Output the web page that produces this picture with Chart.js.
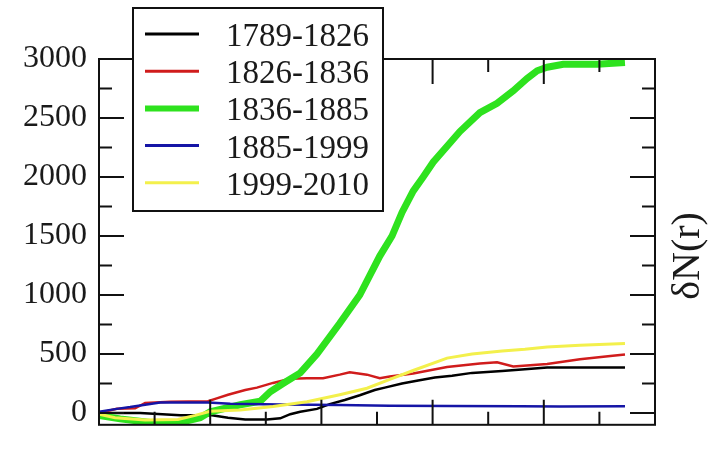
<!DOCTYPE html>
<html>
<head>
<meta charset="utf-8">
<script src="https://cdn.jsdelivr.net/npm/chart.js@4.4.0/dist/chart.umd.min.js"></script>
<style>
html, body { margin: 0; padding: 0; background: #fff; }
</style>
</head>
<body>
<canvas id="chart" width="713" height="456"></canvas>
<script>
// values, x in arbitrary units 0..100 across the frame
const periods = ['1789-1826', '1826-1836', '1836-1885', '1885-1999', '1999-2010'];

const blackX = [0, 7.4, 14.6, 20.3, 23.2, 26.3, 30.2, 32.6, 34.4, 36.2, 39.2, 41.5, 44.2, 46.9, 49.6, 51.4, 54.5, 57.4, 60.4, 63.5, 67.1, 72.5, 76.6, 80.6, 94.6];
const blackY = [0, 0, -20, -20, -40, -55, -55, -45, -10, 10, 35, 75, 110, 150, 195, 215, 250, 275, 300, 315, 340, 355, 370, 385, 385];

const redX = [0, 3.2, 6.5, 8.3, 12.8, 19.6, 20.9, 23.2, 26.3, 28.4, 31.3, 34.4, 37.4, 40.3, 43.3, 45.1, 48.2, 50.5, 52.3, 56.5, 62.6, 68.5, 71.6, 74.5, 80.6, 86.5, 92.4, 94.6];
const redY = [0, 35, 40, 85, 95, 100, 120, 155, 195, 215, 255, 290, 295, 295, 325, 345, 325, 295, 310, 335, 390, 420, 430, 395, 415, 455, 485, 495];

const greenX = [0, 3.8, 9.2, 14.6, 18.2, 20.0, 25.4, 29.0, 30.8, 33.1, 36.2, 39.2, 43.3, 46.9, 50.5, 52.7, 54.5, 56.5, 58.3, 60.1, 62.6, 64.9, 68.5, 71.6, 74.5, 77.0, 78.8, 80.6, 83.5, 89.6, 94.6];
const greenY = [-20, -50, -80, -80, -40, 10, 70, 100, 180, 250, 340, 500, 760, 1000, 1330, 1500, 1700, 1880, 2000, 2125, 2260, 2385, 2545, 2625, 2730, 2835, 2900, 2930, 2955, 2955, 2970];

const blueX = [0, 3.2, 5.6, 8.3, 11, 19.6, 23.6, 32.6, 43.3, 52.3, 63.1, 75.7, 82.9, 94.6];
const blueY = [10, 35, 50, 70, 88, 90, 78, 72, 68, 62, 60, 58, 55, 57];

const yellowX = [0, 2.9, 8.3, 14.2, 17.3, 20, 25.4, 31.3, 37.4, 43.3, 48.2, 52.3, 56.5, 62.6, 67.1, 72.5, 76.6, 80.6, 86.5, 94.6];
const yellowY = [-10, -40, -60, -55, -20, 15, 25, 55, 95, 155, 210, 285, 360, 465, 500, 525, 540, 560, 575, 590];

const yTicks = [0, 500, 1000, 1500, 2000, 2500, 3000];
const yMinor = [250, 750, 1250, 1750, 2250, 2750];
const xTicks = [20, 40, 60, 80];
const xMinor = [10, 30, 50, 70, 90];

const colors = ['#000000', '#d01c1c', '#2ee21e', '#1515a6', '#f3f04c'];
const widths = [2.5, 2.5, 7, 2.5, 3];

function pts(xs, ys) {
    return xs.map((x, i) => ({x: x, y: ys[i]}));
}
const series = [pts(blackX, blackY), pts(redX, redY), pts(greenX, greenY), pts(blueX, blueY), pts(yellowX, yellowY)];

const serif = "'Liberation Serif', 'DejaVu Serif', serif";

// box, inward ticks, legend and the right-hand title
const decor = {
    id: 'decor',
    afterDatasetsDraw(chart) {
        const ctx = chart.ctx, a = chart.chartArea;
        const x = chart.scales.x, y = chart.scales.y;
        ctx.save();
        ctx.strokeStyle = '#111';
        ctx.lineWidth = 2;
        ctx.strokeRect(a.left, a.top, a.right - a.left, a.bottom - a.top);
        ctx.beginPath();
        const tick = (v, len, isY) => {
            if (isY) {
                const p = y.getPixelForValue(v);
                ctx.moveTo(a.left, p); ctx.lineTo(a.left + len, p);
                ctx.moveTo(a.right, p); ctx.lineTo(a.right - len, p);
            } else {
                const p = x.getPixelForValue(v);
                ctx.moveTo(p, a.bottom); ctx.lineTo(p, a.bottom - len);
                ctx.moveTo(p, a.top); ctx.lineTo(p, a.top + len);
            }
        };
        yTicks.forEach(v => tick(v, 25, true));
        yMinor.forEach(v => tick(v, 13, true));
        xTicks.forEach(v => tick(v, 25, false));
        xMinor.forEach(v => tick(v, 13, false));
        ctx.stroke();
        ctx.restore();
    },
    afterDraw(chart) {
        const ctx = chart.ctx;
        ctx.save();
        // legend box
        ctx.fillStyle = '#fff';
        ctx.fillRect(133, 8, 250, 203);
        ctx.strokeStyle = '#111';
        ctx.lineWidth = 2;
        ctx.strokeRect(133, 8, 250, 203);
        ctx.font = '33px ' + serif;
        ctx.textBaseline = 'alphabetic';
        ctx.textAlign = 'left';
        chart.data.datasets.forEach((ds, i) => {
            const ly = 34 + i * 37.2;
            ctx.strokeStyle = ds.borderColor;
            ctx.lineWidth = i === 2 ? 6 : 3;
            ctx.beginPath();
            ctx.moveTo(145, ly);
            ctx.lineTo(199, ly);
            ctx.stroke();
            ctx.fillStyle = '#1a1a1a';
            ctx.fillText(ds.label, 226, ly + 12);
        });
        // y title on the right
        ctx.translate(688, 256);
        ctx.rotate(-Math.PI / 2);
        ctx.font = '40px ' + serif;
        ctx.textAlign = 'center';
        ctx.textBaseline = 'middle';
        ctx.fillStyle = '#1a1a1a';
        ctx.fillText('\u03b4N(r)', 0, 0);
        ctx.restore();
    }
};

const ctx = document.getElementById('chart').getContext('2d');
const chart = new Chart(ctx, {
    type: 'line',
    data: {
        datasets: periods.map((p, i) => ({
            label: p,
            data: series[i],
            borderColor: colors[i],
            backgroundColor: colors[i],
            borderWidth: widths[i],
            pointRadius: 0,
            fill: false,
            tension: 0,
            order: 5 - i
        }))
    },
    options: {
        responsive: false,
        animation: false,
        layout: { padding: { top: 59, right: 58, bottom: 4, left: 0 } },
        plugins: { legend: { display: false }, tooltip: { enabled: false } },
        scales: {
            x: {
                type: 'linear',
                min: 0,
                max: 100,
                ticks: { display: false },
                grid: { display: false, drawTicks: false },
                border: { display: false },
                afterFit: s => { s.height = 0; }
            },
            y: {
                type: 'linear',
                min: -100,
                max: 3000,
                afterBuildTicks: s => { s.ticks = yTicks.map(v => ({value: v})); },
                ticks: {
                    font: { family: serif, size: 32 },
                    color: '#1a1a1a',
                    padding: 12,
                    callback: v => String(v)
                },
                grid: { display: false, drawTicks: false },
                border: { display: false },
                afterFit: s => { s.width = 99; }
            }
        }
    },
    plugins: [decor]
});
</script>
</body>
</html>
